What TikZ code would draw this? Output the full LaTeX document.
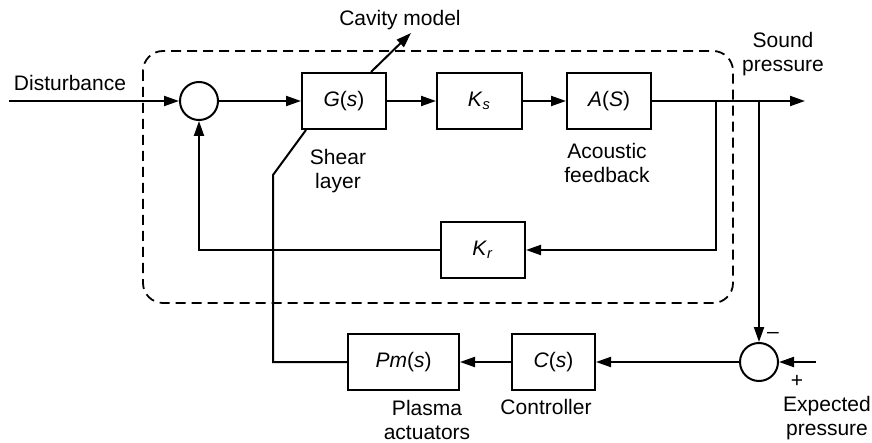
\documentclass[tikz,border=0pt]{standalone}
\usepackage{fontspec}
\setmainfont{Liberation Sans}
\usetikzlibrary{arrows.meta}
\tikzset{
  blk/.style={draw, line width=1pt, minimum width=42pt, minimum height=28pt, inner sep=0pt, font=\fontsize{10.5}{12}\selectfont},
  sumc/.style={draw, circle, line width=1pt, minimum size=19pt, inner sep=0pt},
  lbl/.style={align=center, inner sep=0pt, font=\fontsize{10.5}{12}\selectfont},
  arr/.style={line width=1pt, -{Triangle[length=7.5pt,width=5pt]}},
  ln/.style={line width=1pt},
  cavbox/.style={line width=0.9pt, dash pattern=on 5pt off 3pt, rounded corners=10pt}
}
\begin{document}
\begin{tikzpicture}[x=0.5pt,y=-0.5pt]
\useasboundingbox (0,0) rectangle (872,443);
% dashed cavity model boundary
\draw[cavbox] (143,51) rectangle (733,303);
% blocks
\node[sumc] (c1) at (199,101) {};
\node[blk] (G) at (344,101) {\textit{G}(\textit{s})};
\node[blk, minimum width=42.5pt] (Ks) at (479.5,101) {\textit{K}\textsubscript{\textit{s}}};
\node[blk] (A) at (609,101) {\textit{A}(\textit{S})};
\node[blk] (Kr) at (483,250) {\textit{K}\textsubscript{\textit{r}}};
\node[sumc] (c2) at (759,362) {};
\node[blk, minimum width=41.5pt] (C) at (553.5,362) {\textit{C}(\textit{s})};
\node[blk, minimum width=55.5pt] (Pm) at (403.5,362) {\textit{Pm}(\textit{s})};
% coordinates
\coordinate (dist) at (9,101);
\coordinate (out) at (805,101);
\coordinate (tap1) at (716,101);
\coordinate (tap2) at (759,101);
\coordinate (exp) at (816,362);
\coordinate (b1) at (273,362);
\coordinate (b2) at (273,175);
\coordinate (cav) at (411,33);
% connectors
\draw[arr] (dist) -- (c1);
\draw[arr] (c1) -- (G);
\draw[arr] (G) -- (Ks);
\draw[arr] (Ks) -- (A);
\draw[arr] (A) -- (out);
\draw[arr] (tap1) |- (Kr);
\draw[arr] (Kr.west) -| (c1);
\draw[arr] (tap2) -- (c2);
\draw[arr] (exp) -- (c2);
\draw[arr] (c2) -- (C);
\draw[arr] (C) -- (Pm);
\draw[ln] (Pm.west) -- (b1) -- (b2) -- ([xshift=2.5pt]G.south west);
\draw[arr] ([xshift=13.5pt]G.north) -- (cav);
% labels
\node[lbl] (tdist) at (70,83) {Disturbance};
\node[lbl] (tcav) at (400,20) {Cavity model};
\node[lbl] (tshear) at (338,171.5) {Shear\\layer};
\node[lbl] (tac) at (607,163) {Acoustic\\feedback};
\node[lbl] (tsound) at (783,54.5) {Sound\\pressure};
\node[lbl] (tminus) at (773,335) {\textendash};
\node[lbl] (tplus) at (797,381) {+};
\node[lbl] (texp) at (827,418.5) {Expected\\pressure};
\node[lbl] (tpl) at (427,419.5) {Plasma\\actuators};
\node[lbl] (tctl) at (546,407) {Controller};
\end{tikzpicture}
\end{document}
